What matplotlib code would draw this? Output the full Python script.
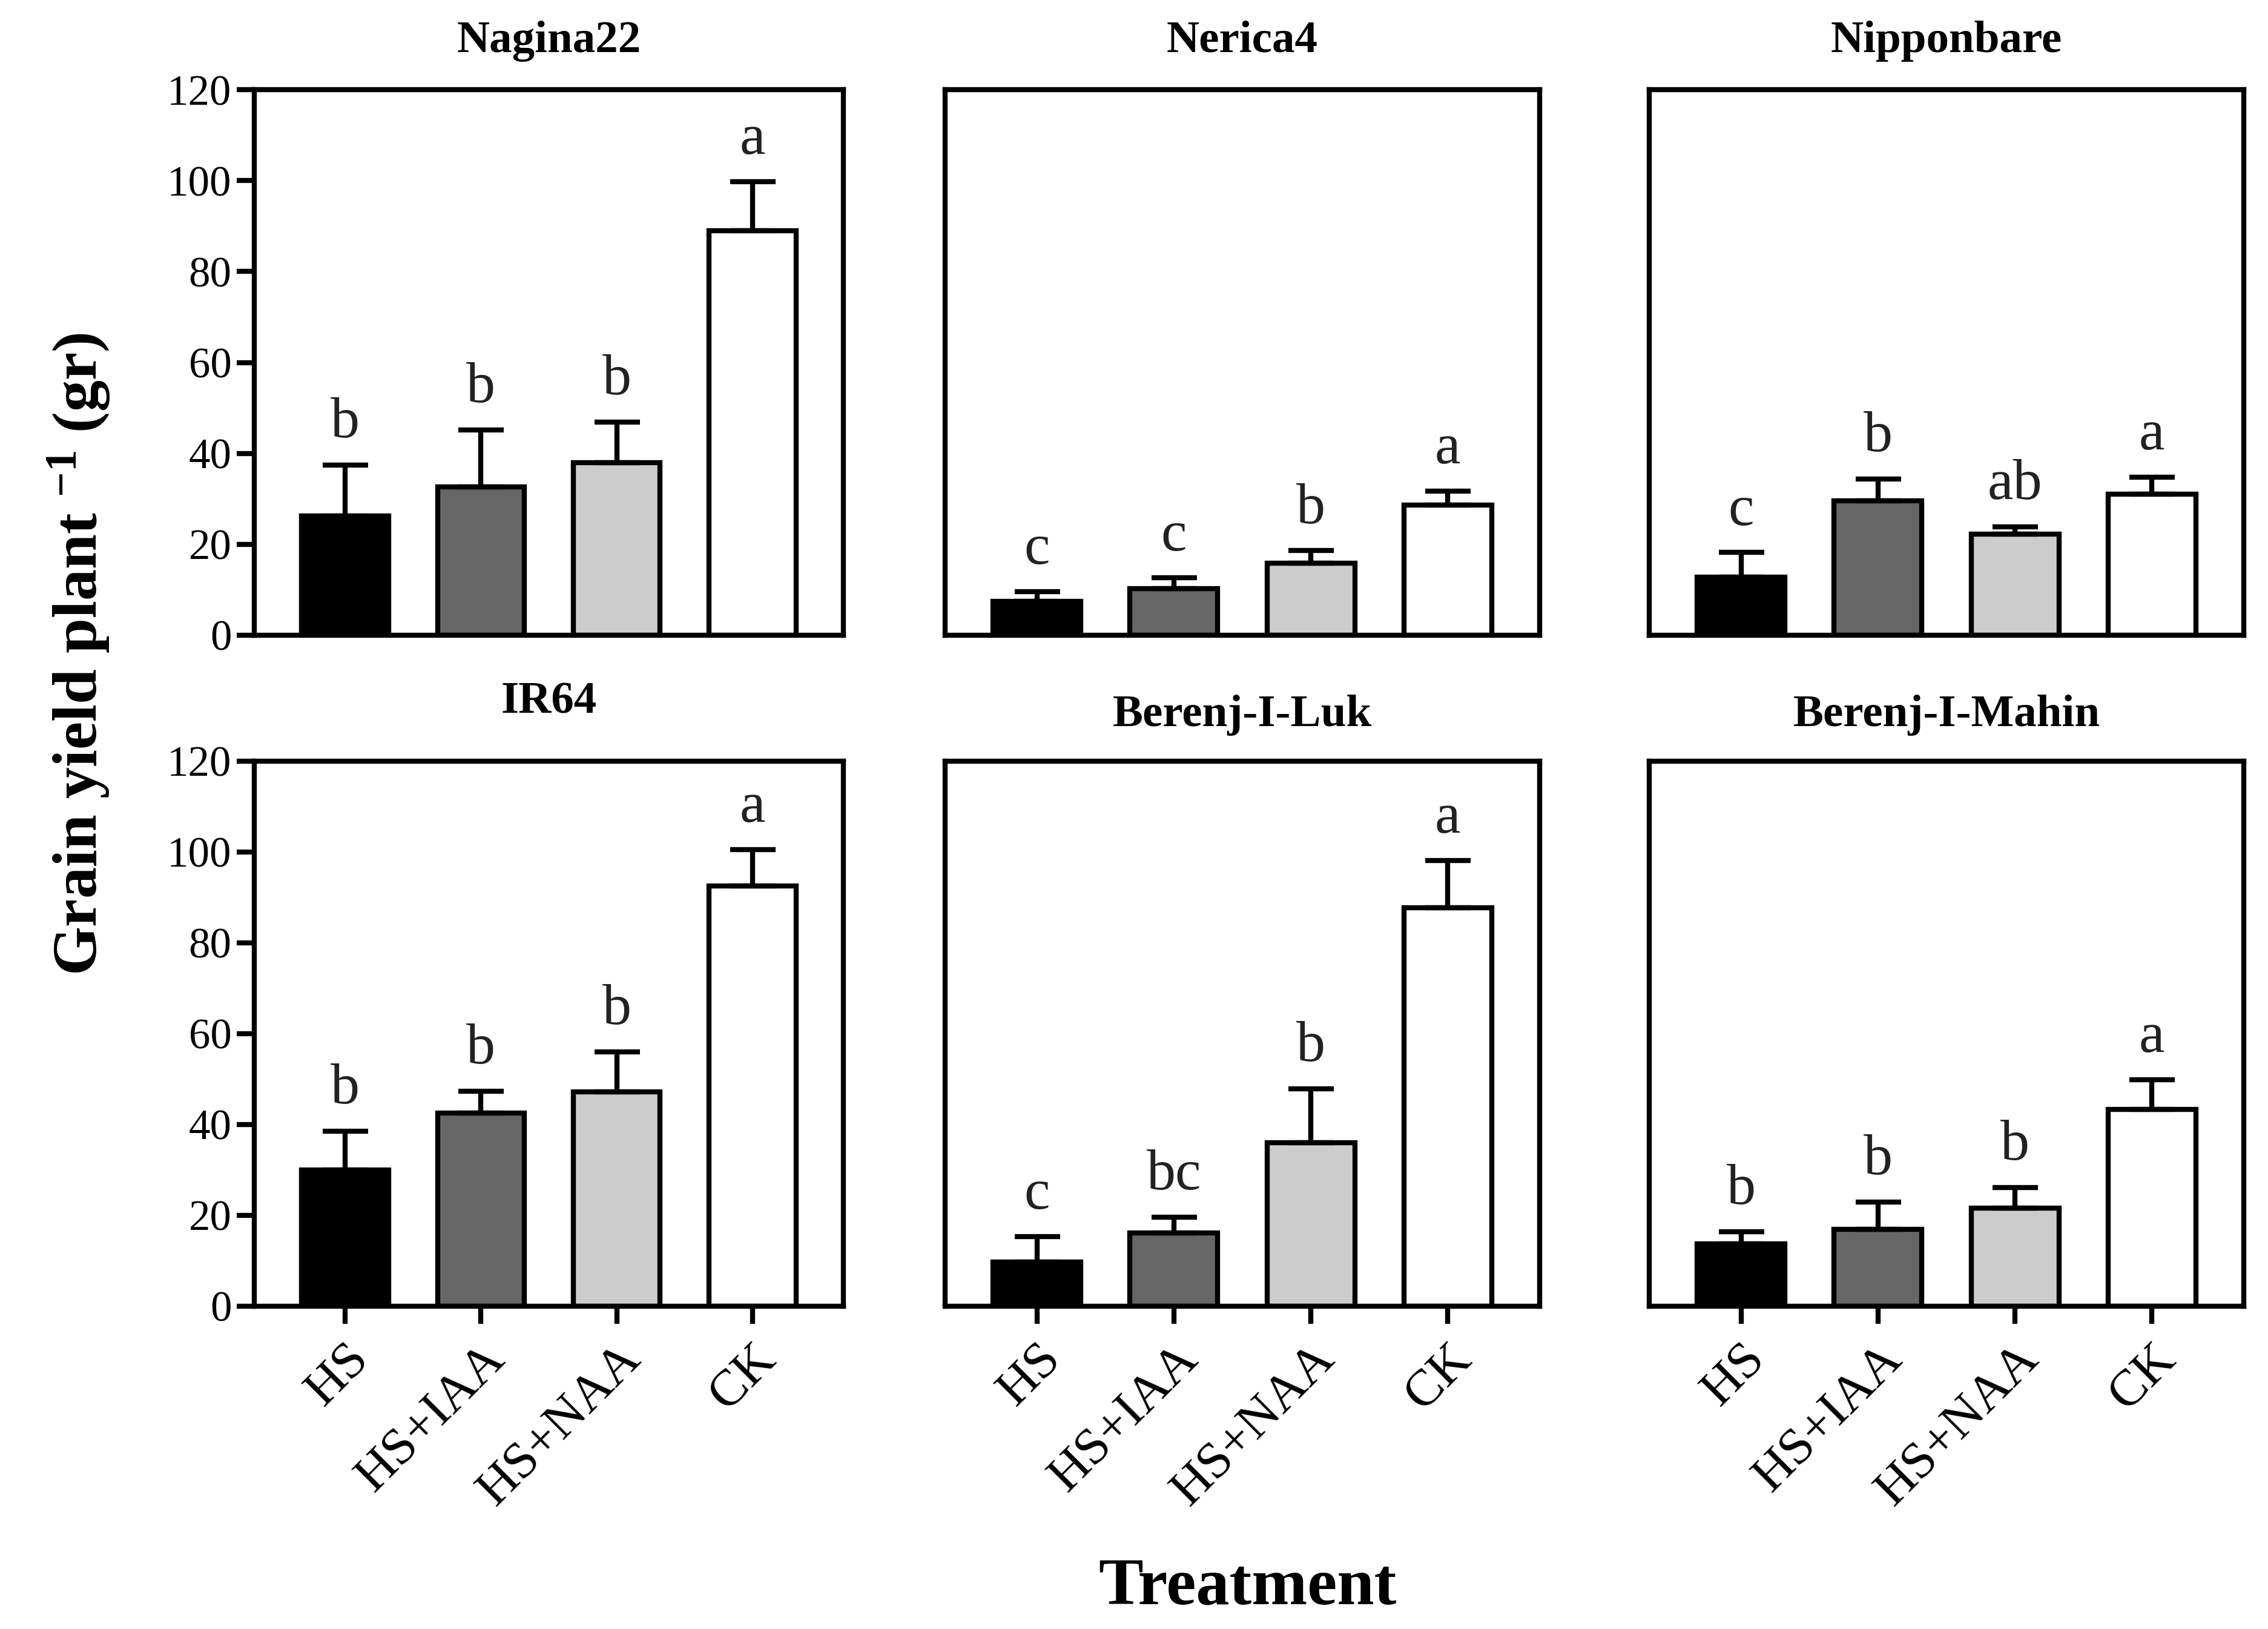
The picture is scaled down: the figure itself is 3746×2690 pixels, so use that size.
import matplotlib
matplotlib.use("Agg")
import matplotlib.pyplot as plt
import numpy as np

plt.rcParams['font.family'] = ['Liberation Serif', 'DejaVu Serif']
plt.rcParams['mathtext.fontset'] = 'custom'
plt.rcParams['mathtext.rm'] = 'Liberation Serif'
plt.rcParams['mathtext.bf'] = 'Liberation Serif:bold'

# ---------------- data ----------------
treatments = ["HS", "HS+IAA", "HS+NAA", "CK"]
cultivars = ["Nagina22", "Nerica4", "Nipponbare", "IR64", "Berenj-I-Luk", "Berenj-I-Mahin"]

nagina22_mean = [26.2, 32.6, 38.0, 89.0]
nagina22_err = [11.2, 12.6, 8.9, 10.8]
nagina22_sig = ["b", "b", "b", "a"]

nerica4_mean = [7.5, 10.3, 15.9, 28.6]
nerica4_err = [2.1, 2.3, 2.7, 3.1]
nerica4_sig = ["c", "c", "b", "a"]

nipponbare_mean = [12.8, 29.6, 22.2, 31.0]
nipponbare_err = [5.4, 4.8, 1.6, 3.8]
nipponbare_sig = ["c", "b", "ab", "a"]

ir64_mean = [30.0, 42.6, 47.2, 92.5]
ir64_err = [8.6, 4.8, 8.8, 8.0]
ir64_sig = ["b", "b", "b", "a"]

luk_mean = [9.7, 16.2, 36.0, 87.7]
luk_err = [5.7, 3.4, 11.9, 10.4]
luk_sig = ["c", "bc", "b", "a"]

mahin_mean = [13.8, 17.0, 21.6, 43.3]
mahin_err = [2.6, 6.0, 4.6, 6.6]
mahin_sig = ["b", "b", "b", "a"]

yticks = [0, 20, 40, 60, 80, 100, 120]

means = [nagina22_mean, nerica4_mean, nipponbare_mean, ir64_mean, luk_mean, mahin_mean]
errs = [nagina22_err, nerica4_err, nipponbare_err, ir64_err, luk_err, mahin_err]
sigs = [nagina22_sig, nerica4_sig, nipponbare_sig, ir64_sig, luk_sig, mahin_sig]

bar_colors = ["#000000", "#666666", "#cccccc", "#ffffff"]

# ---------------- layout ----------------
W, H = 3746, 2690
fig = plt.figure(figsize=(W / 300, H / 300), dpi=300)

col_l = [420, 1561, 2724]
col_r = [1393, 2543, 3706]
row_t = [148, 1257]
row_b = [1049, 2157]
title_pads = [15.0, 15.0, 15.0, 19, 14.0, 14.0]

LW = 2.0
x = np.arange(len(treatments))

for i, name in enumerate(cultivars):
    r, c = divmod(i, 3)
    l, rr = col_l[c], col_r[c]
    t, b = row_t[r], row_b[r]
    ax = fig.add_axes([l / W, 1 - b / H, (rr - l) / W, (b - t) / H])
    ax.bar(x, means[i], width=0.64, color=bar_colors, edgecolor="black",
           linewidth=LW, zorder=2)
    lower = [0] * len(treatments)
    ax.errorbar(x, means[i], yerr=[lower, errs[i]], fmt="none", ecolor="black",
                elinewidth=LW, capsize=9, capthick=LW, zorder=3)
    for xi, m, e, s in zip(x, means[i], errs[i], sigs[i]):
        ax.annotate(s, xy=(xi, m + e), xytext=(0, 11), textcoords="offset points",
                    ha="center", va="baseline", fontsize=23, color="#222222")
    ax.set_xlim(-0.67, 3.67)
    ax.set_ylim(0, 120)
    for sp in ax.spines.values():
        sp.set_linewidth(LW)
        sp.set_color("black")
    ax.set_title(name, fontsize=18, fontweight="bold", pad=title_pads[i])
    if c == 0:
        ax.set_yticks(yticks)
        ax.set_yticklabels([str(v) for v in yticks])
        ax.tick_params(axis="y", direction="out", length=7, width=LW,
                       labelsize=17, pad=2)
    else:
        ax.set_yticks([])
    if r == 1:
        ax.set_xticks(x)
        ax.set_xticklabels(treatments, rotation=45, ha="right",
                           rotation_mode="anchor", fontsize=20.5)
        ax.tick_params(axis="x", direction="out", length=7, width=LW, pad=4.5)
    else:
        ax.set_xticks([])

fig.text(2060 / W, 1 - 2621 / H, "Treatment", fontsize=26.5, fontweight="bold",
         ha="center", va="center")
fig.text(131 / W, 1 - 1080 / H, r"Grain yield plant $\mathbf{^{-1}}$ (gr)",
         fontsize=25, fontweight="bold", rotation=90, ha="center", va="center")

fig.savefig("out.png", dpi=300, facecolor="white")
